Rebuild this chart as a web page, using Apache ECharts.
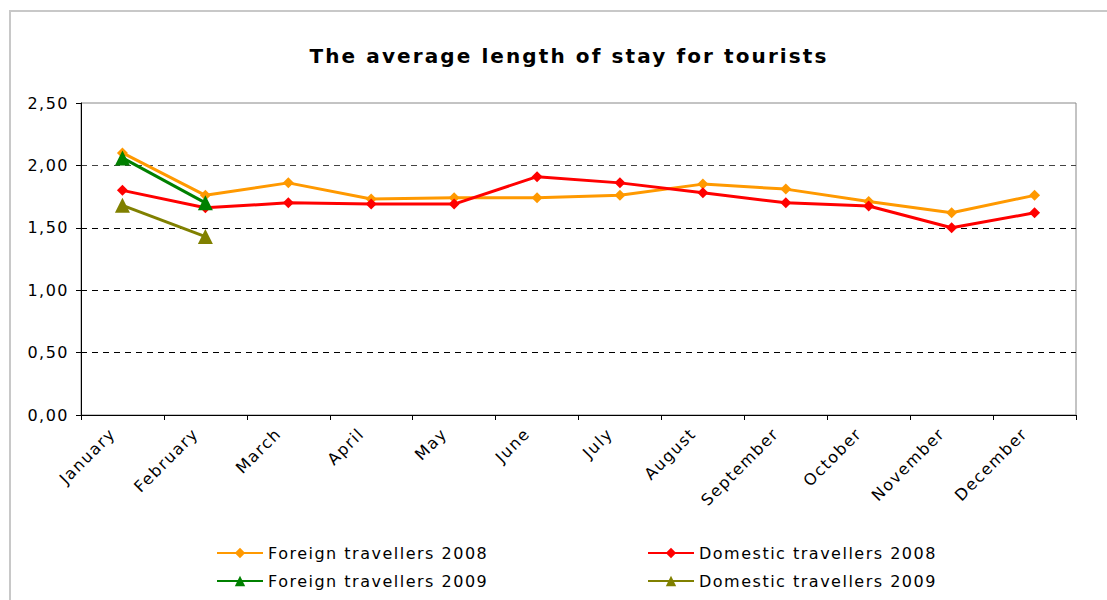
<!DOCTYPE html>
<html>
<head>
<meta charset="utf-8">
<script src="https://cdn.jsdelivr.net/npm/echarts@6/dist/echarts.min.js"></script>
<style>
html,body{margin:0;padding:0;background:#fff;}
#chart{width:1107px;height:600px;}
#chart svg text{letter-spacing:1.5px;}
</style>
</head>
<body>
<div id="chart"></div>
<script>
const months = ['January','February','March','April','May','June','July','August','September','October','November','December'];
const foreign2008 = [2.10,1.76,1.86,1.73,1.74,1.74,1.76,1.85,1.81,1.71,1.62,1.76];
const domestic2008 = [1.80,1.66,1.70,1.69,1.69,1.91,1.86,1.78,1.70,1.675,1.50,1.62];
const foreign2009 = [2.06,1.70];
const domestic2009 = [1.68,1.43];
const yTicks = [0,0.5,1,1.5,2,2.5];
const titleText = 'The average length of stay for tourists';

const FONT = 'DejaVu Sans, Verdana, sans-serif';
const chart = echarts.init(document.getElementById('chart'), null, {renderer:'svg'});

function legendAt(name, left, top){
  return {
    data:[name], left:left, top:top, orient:'horizontal',
    itemWidth:46, itemHeight:13, itemGap:4, padding:0,
    textStyle:{fontFamily:FONT, fontSize:16, color:'#000'}
  };
}

chart.setOption({
  animation:false,
  backgroundColor:'#fff',
  title:{
    text:titleText,
    left:569, textAlign:'center', top:46, padding:0,
    textStyle:{fontFamily:FONT, fontSize:20, fontWeight:'bold', color:'#000'}
  },
  graphic:[{
    type:'rect', shape:{x:10, y:11, width:1120, height:620},
    style:{fill:'none', stroke:'#c8c8c8', lineWidth:2}, silent:true, z:-10
  }],
  legend:[
    legendAt('Foreign travellers 2008', 216, 545),
    legendAt('Domestic travellers 2008', 647, 545),
    legendAt('Foreign travellers 2009', 216, 573),
    legendAt('Domestic travellers 2009', 647, 573)
  ],
  grid:{left:81, right:31, top:103, bottom:185, show:true, borderColor:'#888', borderWidth:1, containLabel:false},
  xAxis:{
    type:'category', data:months, boundaryGap:true,
    axisLine:{lineStyle:{color:'#000', width:1}},
    axisTick:{show:true, length:5, alignWithLabel:false, lineStyle:{color:'#000'}},
    axisLabel:{rotate:45, margin:6, padding:[0,14,0,0], fontFamily:FONT, fontSize:16, color:'#000', interval:0},
    splitLine:{show:false}
  },
  yAxis:{
    type:'value', min:yTicks[0], max:yTicks[yTicks.length-1], interval:0.5,
    axisLine:{show:true, lineStyle:{color:'#000', width:1}},
    axisTick:{show:true, length:5, lineStyle:{color:'#000'}},
    axisLabel:{fontFamily:FONT, fontSize:16, color:'#000', margin:12,
      formatter:function(v){return v.toFixed(2).replace('.', ',');}},
    splitLine:{show:true, lineStyle:{type:[6,5], width:1,
      color:['rgba(0,0,0,0)','#000','#000','#000','#444','rgba(0,0,0,0)']}}
  },
  series:[
    {name:'Foreign travellers 2008', type:'line', data:foreign2008, symbol:'diamond', symbolSize:11,
     itemStyle:{color:'#FF9900'}, lineStyle:{color:'#FF9900', width:3}},
    {name:'Domestic travellers 2008', type:'line', data:domestic2008, symbol:'diamond', symbolSize:11,
     itemStyle:{color:'#FF0000'}, lineStyle:{color:'#FF0000', width:3}},
    {name:'Foreign travellers 2009', type:'line', data:foreign2009, symbol:'triangle', symbolSize:15,
     itemStyle:{color:'#008000'}, lineStyle:{color:'#008000', width:3}},
    {name:'Domestic travellers 2009', type:'line', data:domestic2009, symbol:'triangle', symbolSize:15,
     itemStyle:{color:'#808000'}, lineStyle:{color:'#808000', width:3}}
  ]
});

document.querySelectorAll('#chart svg text').forEach(function(t){
  if (t.textContent === titleText) { t.style.letterSpacing = '2.1px'; }
});
</script>
</body>
</html>
